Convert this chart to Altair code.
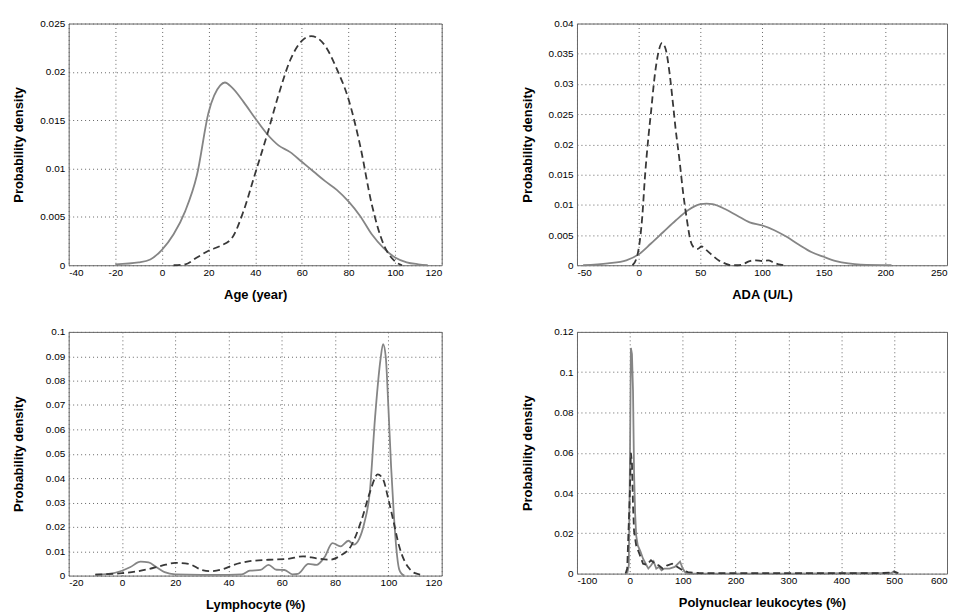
import altair as alt
import pandas as pd

FONT = "Liberation Sans"

# ---------------- Panel 1: Age ----------------
age_solid_x = [-20, -10, -5, 0, 5, 10, 15, 20, 25, 27, 30, 35, 40, 45, 50, 55, 60, 65, 70, 75, 80, 85, 90, 95, 100, 105, 110, 114]
age_solid_y = [0.0001, 0.0003, 0.0006, 0.0016, 0.0032, 0.0056, 0.0093, 0.0158, 0.0186, 0.0189, 0.0184, 0.0169, 0.0152, 0.0136,
               0.0124, 0.0117, 0.0107, 0.0097, 0.0087, 0.0078, 0.0066, 0.0051, 0.0032, 0.0018, 0.0008, 0.0003, 0.0001, 0.0]
age_dash_x = [5, 10, 15, 20, 25, 30, 35, 40, 45, 50, 55, 60, 64, 70, 75, 80, 85, 90, 95, 100, 103]
age_dash_y = [0.0, 0.0001, 0.0008, 0.0015, 0.002, 0.0028, 0.0056, 0.0095, 0.0134, 0.0176, 0.0212, 0.0232, 0.0237, 0.0227,
              0.0203, 0.0172, 0.0124, 0.0063, 0.0022, 0.0004, 0.0]

# ---------------- Panel 2: ADA ----------------
ada_solid_x = [-45, -25, -10, 0, 10, 20, 30, 40, 50, 55, 60, 70, 80, 90, 100, 110, 120, 130, 140, 150, 160, 170, 180, 205]
ada_solid_y = [0.0, 0.0003, 0.0008, 0.0018, 0.0036, 0.0055, 0.0074, 0.0091, 0.0101, 0.0102, 0.0101, 0.0093, 0.0082, 0.0071,
               0.0066, 0.0058, 0.0047, 0.0034, 0.0022, 0.0014, 0.0007, 0.0003, 0.0001, 0.0]
ada_dash_x = [-5, -2, 0, 3, 5, 8, 10, 13, 16, 19, 22, 25, 28, 30, 33, 36, 39, 42, 45, 48, 51, 55, 60, 65, 70, 75, 80, 85, 90,
              95, 100, 105, 110, 115, 118]
ada_dash_y = [0.0, 0.001, 0.0027, 0.0082, 0.0143, 0.0214, 0.0253, 0.0313, 0.0352, 0.0368, 0.0357, 0.0319, 0.0264, 0.0225,
              0.0176, 0.0121, 0.0077, 0.0041, 0.0029, 0.0027, 0.0031, 0.0025, 0.0016, 0.0008, 0.0003, 0.0, 0.0, 0.0002,
              0.0007, 0.0008, 0.0007, 0.0008, 0.0004, 0.0001, 0.0]

# ---------------- Panel 3: Lymphocyte ----------------
lym_solid_x = [-10, -5, 0, 3, 7, 10, 13, 16, 20, 30, 40, 45, 48, 52, 55, 58, 61, 64, 66, 70, 73, 76, 79, 82, 85, 87, 89, 91,
               93, 95, 97, 98, 99, 100, 101, 102, 103, 104, 105, 106]
lym_solid_y = [0.0004, 0.0007, 0.002, 0.0034, 0.0057, 0.0054, 0.0034, 0.0014, 0.0005, 0.0003, 0.0003, 0.0005, 0.002, 0.0023,
               0.0044, 0.0024, 0.0023, 0.0005, 0.0007, 0.0048, 0.0044, 0.0075, 0.0133, 0.012, 0.0143, 0.0127, 0.015, 0.0218,
               0.034, 0.065, 0.0884, 0.095, 0.0898, 0.069, 0.045, 0.0258, 0.0109, 0.0027, 0.0007, 0.0]
lym_dash_x = [-10, 0, 5, 10, 15, 20, 25, 30, 33, 38, 42, 48, 55, 62, 68, 73, 78, 82, 86, 90, 93, 96, 98, 100, 102, 104, 106,
              108, 110, 113]
lym_dash_y = [0.0004, 0.001, 0.0016, 0.0027, 0.0041, 0.0052, 0.0048, 0.0023, 0.0018, 0.0027, 0.0044, 0.0059, 0.0065, 0.0068,
              0.0079, 0.0071, 0.0065, 0.0082, 0.0122, 0.0231, 0.034, 0.0415, 0.0395, 0.0313, 0.0218, 0.0122, 0.0061, 0.0027,
              0.001, 0.0003]

# ---------------- Panel 4: Polynuclear leukocytes ----------------
pmn_solid_x = [-5, -2, 0, 2, 4, 6, 8, 10, 12, 15, 20, 25, 30, 35, 40, 45, 50, 55, 60, 65, 75, 85, 95, 100, 105, 110, 300,
               495, 500, 505]
pmn_solid_y = [0.0, 0.004, 0.05, 0.112, 0.109, 0.091, 0.05, 0.03, 0.019, 0.014, 0.011, 0.0074, 0.0049, 0.0025, 0.004, 0.006,
               0.0025, 0.0033, 0.0016, 0.0025, 0.0025, 0.0033, 0.006, 0.0025, 0.0005, 0.0, 0.0, 0.0003, 0.0012, 0.0002]
pmn_dash_x = [-8, -5, -2, 0, 2, 4, 6, 8, 12, 18, 25, 32, 40, 48, 55, 62, 70, 80, 90, 100, 110, 130, 200, 300, 400, 480, 495,
              500, 508]
pmn_dash_y = [0.0, 0.0025, 0.025, 0.04, 0.06, 0.055, 0.034, 0.021, 0.014, 0.0099, 0.0049, 0.0044, 0.0066, 0.0049, 0.004,
              0.0025, 0.004, 0.0049, 0.0033, 0.0016, 0.0007, 0.0003, 0.0002, 0.0002, 0.0002, 0.0003, 0.0005, 0.0009, 0.0002]

SOLID_COLOR = "#858585"
DASH_COLOR = "#383838"

X_LABEL_EXPR = "datum.value < 0 ? '-' + abs(datum.value) : '' + datum.value"
Y_LABEL_EXPR = "format(datum.value, '.6~g')"


def panel(sx, sy, dx, dy, xdom, xstep, ydom, ystep, xtitle, w, h, interp):
    solid = pd.DataFrame({"x": sx, "y": sy})
    dash = pd.DataFrame({"x": dx, "y": dy})
    xvals = list(range(xdom[0], xdom[1] + 1, xstep))
    n = int(round(ydom[1] / ystep))
    yvals = [round(i * ystep, 6) for i in range(n + 1)]
    X = alt.X("x:Q", scale=alt.Scale(domain=xdom, nice=False, zero=False),
              axis=alt.Axis(values=xvals, title=xtitle, grid=True, labelExpr=X_LABEL_EXPR))
    Y = alt.Y("y:Q", scale=alt.Scale(domain=ydom, nice=False, zero=False),
              axis=alt.Axis(values=yvals, title="Probability density", grid=True, labelExpr=Y_LABEL_EXPR))
    l1 = alt.Chart(solid).mark_line(color=SOLID_COLOR, strokeWidth=1.8, interpolate=interp).encode(x=X, y=Y)
    l2 = alt.Chart(dash).mark_line(color=DASH_COLOR, strokeWidth=1.8, strokeDash=[7, 4],
                                   interpolate=interp).encode(x=X, y=Y)
    return alt.layer(l1, l2).properties(width=w, height=h)


p1 = panel(age_solid_x, age_solid_y, age_dash_x, age_dash_y, [-40, 120], 20, [0, 0.025], 0.005,
           "Age (year)", 375, 243, "monotone")
p2 = panel(ada_solid_x, ada_solid_y, ada_dash_x, ada_dash_y, [-50, 250], 50, [0, 0.04], 0.005,
           "ADA (U/L)", 372, 243, "monotone")
p3 = panel(lym_solid_x, lym_solid_y, lym_dash_x, lym_dash_y, [-20, 120], 20, [0, 0.1], 0.01,
           "Lymphocyte (%)", 375, 245, "monotone")
p4 = panel(pmn_solid_x, pmn_solid_y, pmn_dash_x, pmn_dash_y, [-100, 600], 100, [0, 0.12], 0.02,
           "Polynuclear leukocytes (%)", 372, 243, "linear")

chart = alt.concat(p1, p2, p3, p4, columns=2, spacing={"row": 67, "column": 136}, bounds="flush").properties(
    padding={"left": 4, "top": 8, "right": 0, "bottom": 0},
    background="white",
).configure_view(
    stroke="#666666", strokeWidth=1
).configure_axis(
    labelFont=FONT, labelFontSize=10, labelColor="#000000",
    titleFont=FONT, titleFontSize=13, titleFontWeight="bold", titleColor="#000000",
    domain=False, ticks=False,
    gridColor="#666666", gridDash=[1, 3], gridWidth=1, gridOpacity=1,
).configure_axisY(
    minExtent=43, maxExtent=43, titlePadding=0, labelPadding=4,
).configure_axisX(
    labelPadding=2, titlePadding=11,
)

chart.save("out.html", embed_options={"renderer": "svg", "actions": False})
